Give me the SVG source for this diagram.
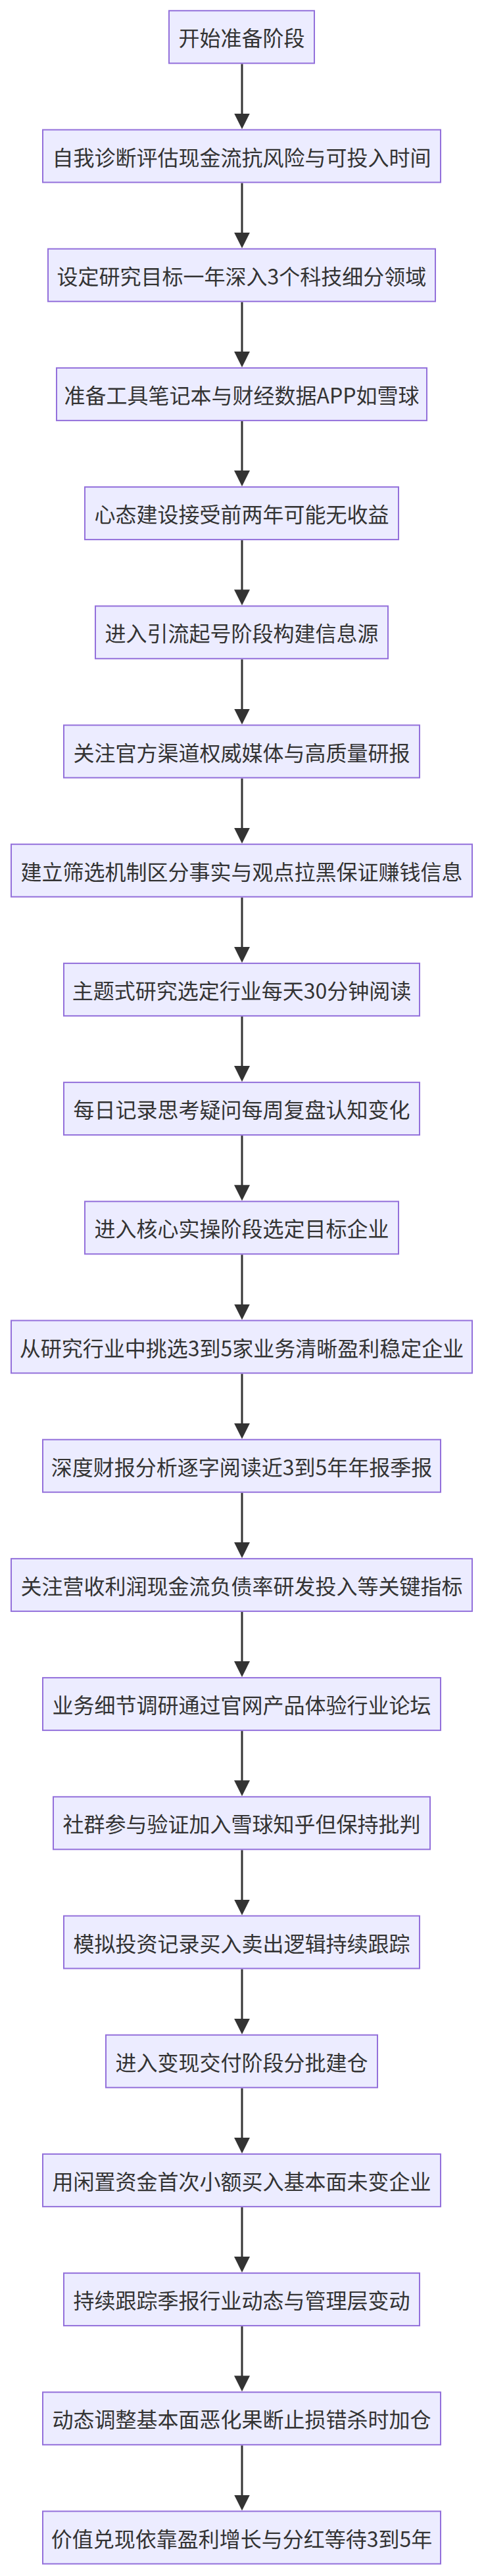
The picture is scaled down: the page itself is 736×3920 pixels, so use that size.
<svg xmlns="http://www.w3.org/2000/svg" width="736" height="3920" viewBox="0 0 736 3920">
<style>
.bg{fill:#ffffff}
.node rect{fill:#ECECFF;stroke:#9370DB;stroke-width:2}
.node text{font-family:"Noto Sans CJK SC","Noto Sans",sans-serif;font-size:32px;fill:#333333;text-anchor:middle;dominant-baseline:central}
.edge{stroke:#333333;stroke-width:3;fill:none;marker-end:url(#arrow)}
</style>
<defs>
<marker id="arrow" viewBox="0 0 24 24" refX="18" refY="12" markerWidth="24" markerHeight="24" markerUnits="userSpaceOnUse" orient="auto">
<path d="M0,0 L24,12 L0,24 Z" fill="#333333"/>
</marker>
</defs>
<rect class="bg" x="0" y="0" width="736" height="3920"/>
<g id="connectors">
<line class="edge" x1="368" y1="97.3" x2="368" y2="190.5"/>
<line class="edge" x1="368" y1="278.5" x2="368" y2="371.7"/>
<line class="edge" x1="368" y1="459.7" x2="368" y2="552.9"/>
<line class="edge" x1="368" y1="640.9" x2="368" y2="734.1"/>
<line class="edge" x1="368" y1="822.1" x2="368" y2="915.3"/>
<line class="edge" x1="368" y1="1003.3" x2="368" y2="1096.5"/>
<line class="edge" x1="368" y1="1184.5" x2="368" y2="1277.7"/>
<line class="edge" x1="368" y1="1365.7" x2="368" y2="1458.9"/>
<line class="edge" x1="368" y1="1546.9" x2="368" y2="1640.1"/>
<line class="edge" x1="368" y1="1728.1" x2="368" y2="1821.3"/>
<line class="edge" x1="368" y1="1909.3" x2="368" y2="2002.5"/>
<line class="edge" x1="368" y1="2090.5" x2="368" y2="2183.7"/>
<line class="edge" x1="368" y1="2271.7" x2="368" y2="2364.9"/>
<line class="edge" x1="368" y1="2452.9" x2="368" y2="2546.1"/>
<line class="edge" x1="368" y1="2634.1" x2="368" y2="2727.3"/>
<line class="edge" x1="368" y1="2815.3" x2="368" y2="2908.5"/>
<line class="edge" x1="368" y1="2996.5" x2="368" y2="3089.7"/>
<line class="edge" x1="368" y1="3177.7" x2="368" y2="3270.9"/>
<line class="edge" x1="368" y1="3358.9" x2="368" y2="3452.1"/>
<line class="edge" x1="368" y1="3540.1" x2="368" y2="3633.3"/>
<line class="edge" x1="368" y1="3721.3" x2="368" y2="3814.5"/>
</g>
<g id="n1" class="node"><rect x="257" y="16.3" width="221" height="80"/><text x="367.5" y="56.3">开始准备阶段</text></g>
<g id="n2" class="node"><rect x="65" y="197.5" width="605" height="80"/><text x="367.5" y="237.5">自我诊断评估现金流抗风险与可投入时间</text></g>
<g id="n3" class="node"><rect x="73" y="378.7" width="589" height="80"/><text x="367.5" y="418.7">设定研究目标一年深入3个科技细分领域</text></g>
<g id="n4" class="node"><rect x="86" y="559.9" width="563" height="80"/><text x="367.5" y="599.9">准备工具笔记本与财经数据APP如雪球</text></g>
<g id="n5" class="node"><rect x="129" y="741.1" width="477" height="80"/><text x="367.5" y="781.1">心态建设接受前两年可能无收益</text></g>
<g id="n6" class="node"><rect x="145" y="922.3" width="445" height="80"/><text x="367.5" y="962.3">进入引流起号阶段构建信息源</text></g>
<g id="n7" class="node"><rect x="97" y="1103.5" width="541" height="80"/><text x="367.5" y="1143.5">关注官方渠道权威媒体与高质量研报</text></g>
<g id="n8" class="node"><rect x="17" y="1284.7" width="701" height="80"/><text x="367.5" y="1324.7">建立筛选机制区分事实与观点拉黑保证赚钱信息</text></g>
<g id="n9" class="node"><rect x="97" y="1465.9" width="541" height="80"/><text x="367.5" y="1505.9">主题式研究选定行业每天30分钟阅读</text></g>
<g id="n10" class="node"><rect x="97" y="1647.1" width="541" height="80"/><text x="367.5" y="1687.1">每日记录思考疑问每周复盘认知变化</text></g>
<g id="n11" class="node"><rect x="129" y="1828.3" width="477" height="80"/><text x="367.5" y="1868.3">进入核心实操阶段选定目标企业</text></g>
<g id="n12" class="node"><rect x="17" y="2009.5" width="701" height="80"/><text x="367.5" y="2049.5">从研究行业中挑选3到5家业务清晰盈利稳定企业</text></g>
<g id="n13" class="node"><rect x="65" y="2190.7" width="605" height="80"/><text x="367.5" y="2230.7">深度财报分析逐字阅读近3到5年年报季报</text></g>
<g id="n14" class="node"><rect x="17" y="2371.9" width="701" height="80"/><text x="367.5" y="2411.9">关注营收利润现金流负债率研发投入等关键指标</text></g>
<g id="n15" class="node"><rect x="65" y="2553.1" width="605" height="80"/><text x="367.5" y="2593.1">业务细节调研通过官网产品体验行业论坛</text></g>
<g id="n16" class="node"><rect x="81" y="2734.3" width="573" height="80"/><text x="367.5" y="2774.3">社群参与验证加入雪球知乎但保持批判</text></g>
<g id="n17" class="node"><rect x="97" y="2915.5" width="541" height="80"/><text x="367.5" y="2955.5">模拟投资记录买入卖出逻辑持续跟踪</text></g>
<g id="n18" class="node"><rect x="161" y="3096.7" width="413" height="80"/><text x="367.5" y="3136.7">进入变现交付阶段分批建仓</text></g>
<g id="n19" class="node"><rect x="65" y="3277.9" width="605" height="80"/><text x="367.5" y="3317.9">用闲置资金首次小额买入基本面未变企业</text></g>
<g id="n20" class="node"><rect x="97" y="3459.1" width="541" height="80"/><text x="367.5" y="3499.1">持续跟踪季报行业动态与管理层变动</text></g>
<g id="n21" class="node"><rect x="65" y="3640.3" width="605" height="80"/><text x="367.5" y="3680.3">动态调整基本面恶化果断止损错杀时加仓</text></g>
<g id="n22" class="node"><rect x="65" y="3821.5" width="605" height="80"/><text x="367.5" y="3861.5">价值兑现依靠盈利增长与分红等待3到5年</text></g>
</svg>
